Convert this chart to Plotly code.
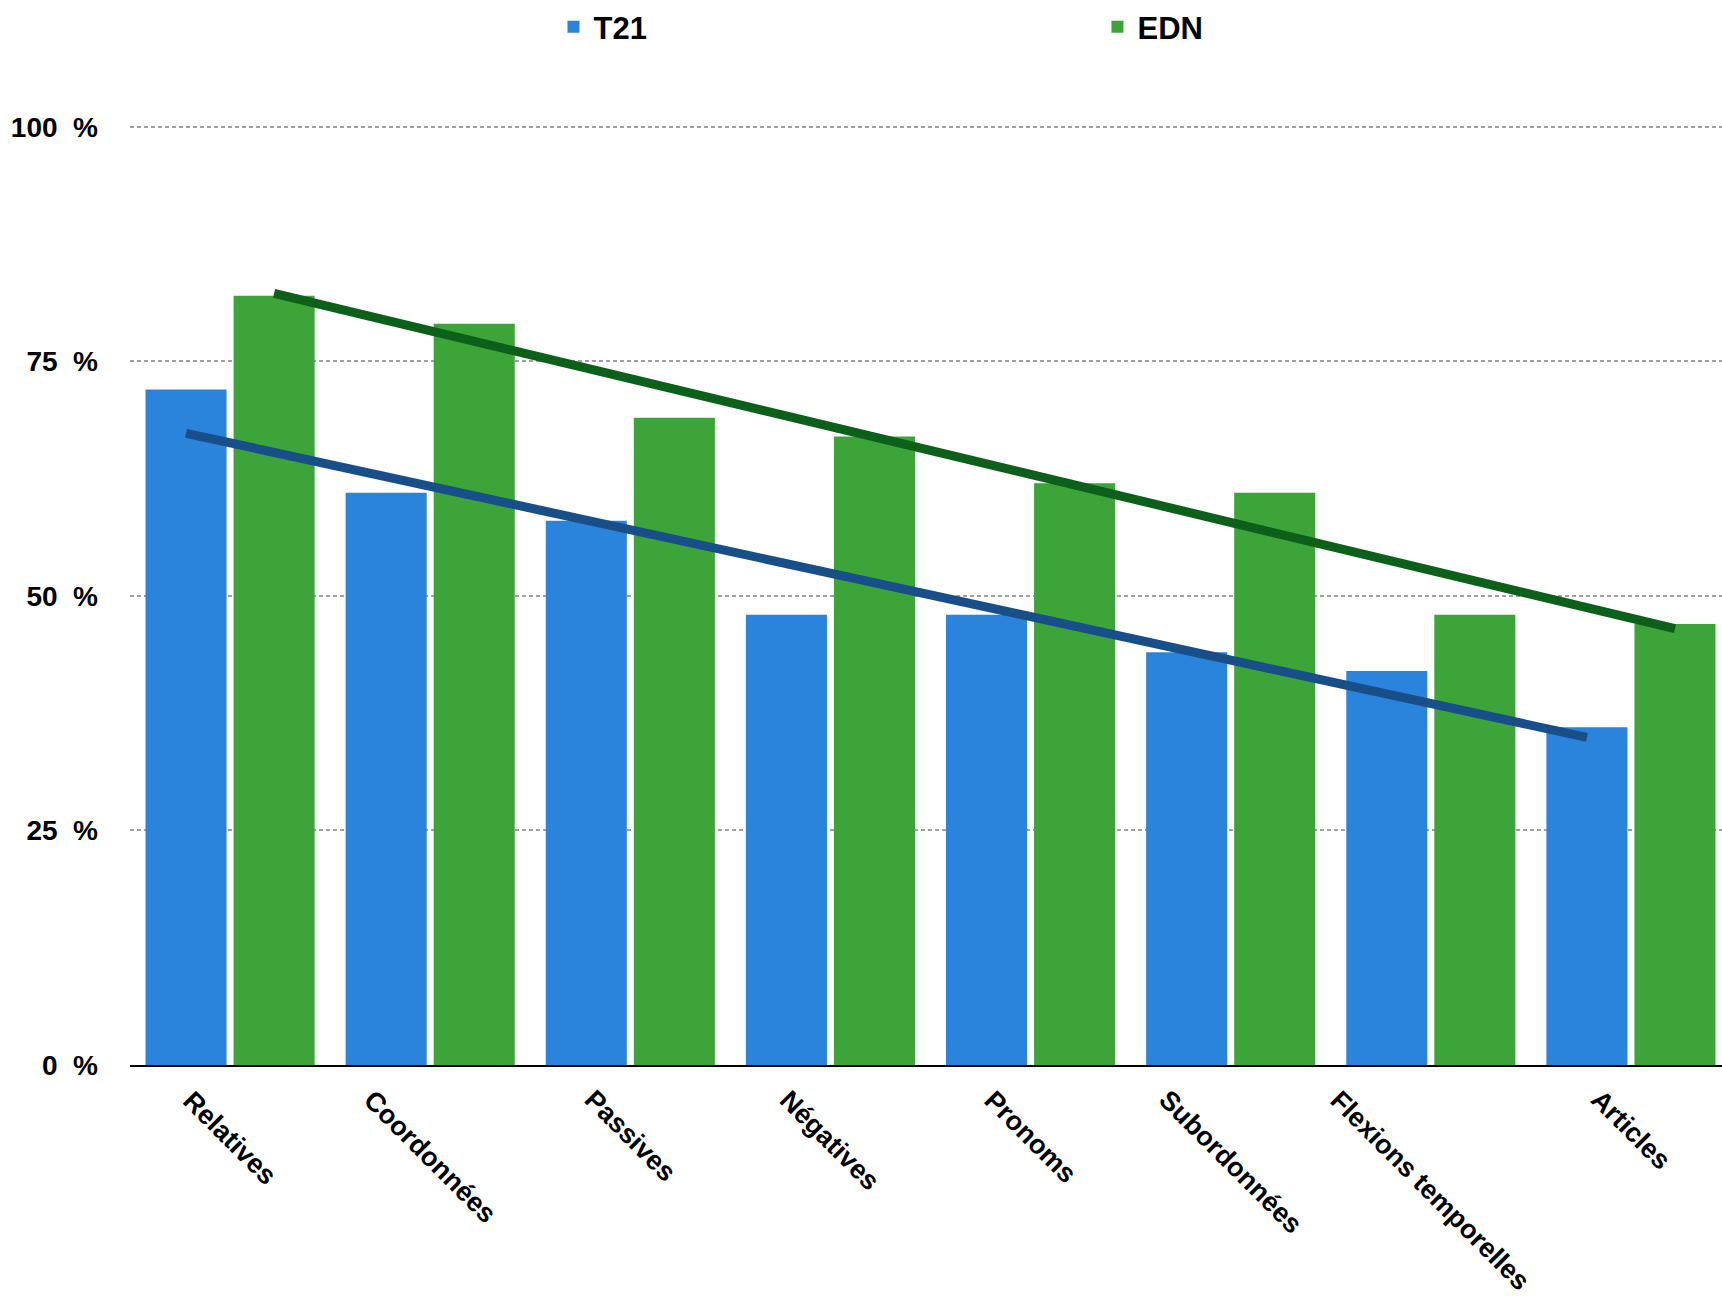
import numpy as np
import plotly.graph_objects as go

# ---- data ----
categories = ["Relatives", "Coordonnées", "Passives", "Négatives", "Pronoms",
              "Subordonnées", "Flexions temporelles", "Articles"]
t21 = [72, 61, 58, 48, 48, 44, 42, 36]
edn = [82, 79, 69, 67, 62, 61, 48, 47]
y_ticks = [0, 25, 50, 75, 100]
y_tick_labels = ["0  %", "25  %", "50  %", "75  %", "100  %"]

# ---- geometry / style ----
FONT = "Liberation Sans, Arial, sans-serif"
BAR_W = 0.405
GAP = 0.035
idx = np.arange(len(categories))
off_t = -GAP / 2 - BAR_W
off_e = GAP / 2
cx_t = idx + off_t + BAR_W / 2
cx_e = idx + off_e + BAR_W / 2

fit_t = np.polyval(np.polyfit(idx, t21, 1), idx)
fit_e = np.polyval(np.polyfit(idx, edn, 1), idx)

fig = go.Figure()
fig.add_trace(go.Bar(x=idx, y=t21, width=BAR_W, offset=off_t, name="T21",
                     marker=dict(color="#2a84dc", line=dict(width=0))))
fig.add_trace(go.Bar(x=idx, y=edn, width=BAR_W, offset=off_e, name="EDN",
                     marker=dict(color="#3ca438", line=dict(width=0))))
fig.add_trace(go.Scatter(x=cx_t, y=fit_t, mode="lines", showlegend=False,
                         line=dict(color="#184f88", width=9), hoverinfo="skip"))
fig.add_trace(go.Scatter(x=cx_e, y=fit_e, mode="lines", showlegend=False,
                         line=dict(color="#0d6019", width=9), hoverinfo="skip"))

# category labels, rotated, centred under each category
for i, cat in zip(idx, categories):
    fig.add_annotation(x=i, y=0, xref="x", yref="y", text=cat, showarrow=False,
                       textangle=45, xanchor="center", yanchor="top", yshift=-17,
                       font=dict(family=FONT, size=27, weight="bold", color="black"))

fig.update_layout(
    width=1722, height=1296,
    margin=dict(l=130, r=0, t=121, b=231),
    plot_bgcolor="white", paper_bgcolor="white",
    barmode="overlay",
    font=dict(family=FONT, color="black"),
    showlegend=True,
    legend=dict(orientation="h", x=0.266, xanchor="left", y=1.103, yanchor="middle",
                entrywidth=499, entrywidthmode="pixels",
                font=dict(family=FONT, size=31, weight="bold", color="black"),
                bgcolor="rgba(0,0,0,0)"),
    xaxis=dict(range=[-0.5, 7.455], tickmode="array", tickvals=idx,
               showticklabels=False, automargin=False,
               showgrid=False, zeroline=False, showline=True, linecolor="black",
               linewidth=2, ticks=""),
    yaxis=dict(range=[0, 100.3], tickmode="array", tickvals=y_ticks,
               ticktext=[t.replace(" ", "\u00a0") for t in y_tick_labels],
               tickfont=dict(family=FONT, size=28, weight="bold"),
               showgrid=True, gridcolor="#a0a0a0", gridwidth=1.5, griddash="4px,3px",
               zeroline=False, showline=False, ticks="", ticklabelstandoff=31,
               automargin=False),
)

fig.write_html("out.html")
